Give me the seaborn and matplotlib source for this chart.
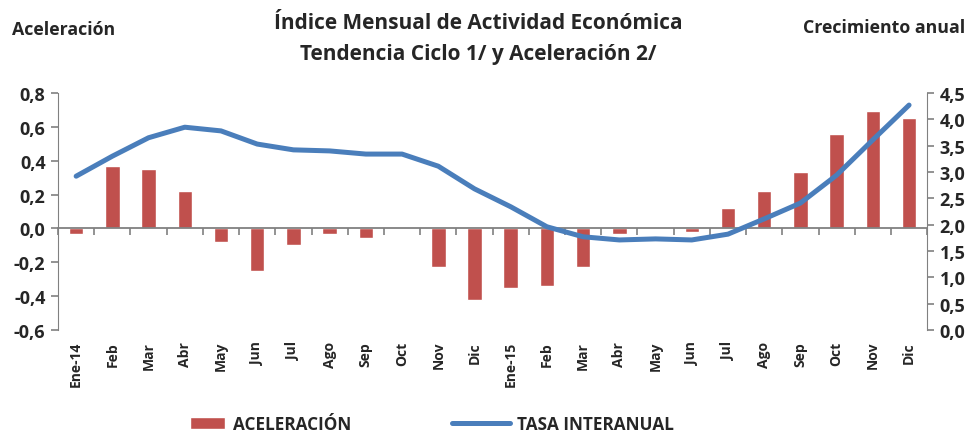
import matplotlib
matplotlib.use("Agg")
import matplotlib.pyplot as plt
import seaborn as sns
import pandas as pd

# data
meses = ["Ene-14", "Feb", "Mar", "Abr", "May", "Jun", "Jul", "Ago", "Sep", "Oct", "Nov", "Dic",
         "Ene-15", "Feb", "Mar", "Abr", "May", "Jun", "Jul", "Ago", "Sep", "Oct", "Nov", "Dic"]
aceleracion = [-0.03, 0.37, 0.35, 0.22, -0.08, -0.25, -0.095, -0.03, -0.055, 0.005, -0.23, -0.42,
               -0.35, -0.34, -0.23, -0.03, 0.01, -0.02, 0.12, 0.22, 0.335, 0.555, 0.695, 0.655]
tasa_interanual = [2.92, 3.30, 3.65, 3.85, 3.78, 3.53, 3.42, 3.40, 3.34, 3.34, 3.11, 2.68,
                   2.34, 1.96, 1.77, 1.71, 1.73, 1.71, 1.82, 2.11, 2.41, 2.94, 3.61, 4.27]
ticks_izq = [-0.6, -0.4, -0.2, 0.0, 0.2, 0.4, 0.6, 0.8]
ticks_der = [0.0, 0.5, 1.0, 1.5, 2.0, 2.5, 3.0, 3.5, 4.0, 4.5]

df = pd.DataFrame({"pos": range(len(meses)), "acel": aceleracion, "tasa": tasa_interanual})

sns.set_style("white")
plt.rcParams["font.family"] = ["Open Sans", "DejaVu Sans"]
plt.rcParams["font.weight"] = "bold"

rojo = "#C0504D"
azul = "#4A7EBB"
gris = "#808080"

fig = plt.figure(figsize=(9.77, 4.35), dpi=100)
ax = fig.add_axes([0.0594, 0.239, 0.8896, 0.545])

sns.barplot(data=df, x="pos", y="acel", color=rojo, width=0.4, saturation=1, ax=ax,
            label="ACELERACIÓN")
ax.set_ylim(-0.6, 0.8)
ax.set_yticks(ticks_izq)
ax.set_yticklabels([f"{t:.1f}".replace(".", ",") for t in ticks_izq], fontsize=13, fontweight="bold")
ax.set_xlim(-0.5, len(meses) - 0.5)

# category axis sits on the zero line, labels pushed down to the bottom
ax.spines["bottom"].set_position(("data", 0))
ax.spines["bottom"].set_color(gris)
ax.spines["bottom"].set_linewidth(1.3)
ax.set_xticks(range(len(meses)))
ax.set_xticklabels(meses, rotation=90, fontsize=10, fontweight="bold")
ax.set_xticks([i - 0.5 for i in range(len(meses) + 1)], minor=True)
ax.tick_params(axis="x", which="major", bottom=True, length=0, pad=81)
ax.tick_params(axis="x", which="minor", bottom=True, length=5, width=1.2, color=gris, direction="out")
ax.tick_params(axis="y", length=5, width=1.2, color=gris, direction="out", left=True, pad=4)
ax.set_xlabel("")
ax.set_ylabel("")
for s in ["top", "right"]:
    ax.spines[s].set_visible(False)
ax.spines["left"].set_color(gris)

ax2 = ax.twinx()
sns.lineplot(data=df, x="pos", y="tasa", color=azul, linewidth=3.6, ax=ax2,
             label="TASA INTERANUAL", legend=False)
ax2.set_ylim(0, 4.5)
ax2.set_yticks(ticks_der)
ax2.set_yticklabels([f"{t:.1f}".replace(".", ",") for t in ticks_der], fontsize=13, fontweight="bold")
ax2.tick_params(axis="y", length=5, width=1.2, color=gris, direction="out", right=True, pad=4)
ax2.set_ylabel("")
for s in ["top", "bottom", "left"]:
    ax2.spines[s].set_visible(False)
ax2.spines["right"].set_color(gris)
ax2.set_xlim(-0.5, len(meses) - 0.5)

if ax.get_legend() is not None:
    ax.get_legend().remove()

h1, l1 = ax.get_legend_handles_labels()
h2, l2 = ax2.get_legend_handles_labels()
fig.legend(h1, l1, loc="center left", bbox_to_anchor=(190 / 977, 0.023), frameon=False,
           fontsize=12.3, handlelength=2.05, handleheight=0.7, handletextpad=0.45,
           borderpad=0, borderaxespad=0)
fig.legend(h2, l2, loc="center left", bbox_to_anchor=(452 / 977, 0.023), frameon=False,
           fontsize=12.3, handlelength=3.4, handletextpad=0.4,
           borderpad=0, borderaxespad=0)

fig.text(0.49, 0.945, "Índice Mensual de Actividad Económica", ha="center", va="center",
         fontsize=15, fontweight="bold")
fig.text(0.49, 0.875, "Tendencia Ciclo 1/ y Aceleración 2/", ha="center", va="center",
         fontsize=15, fontweight="bold")
fig.text(0.012, 0.93, "Aceleración", ha="left", va="center", fontsize=12.8, fontweight="bold")
fig.text(0.988, 0.935, "Crecimiento anual", ha="right", va="center", fontsize=12.8, fontweight="bold")

fig.savefig("out.png", dpi=100)
